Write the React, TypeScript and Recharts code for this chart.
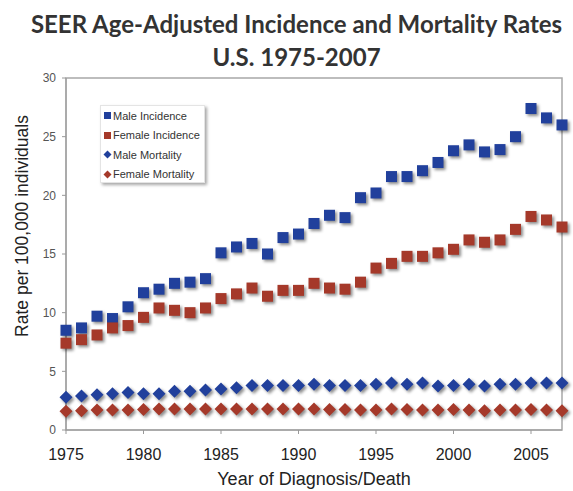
import { ScatterChart, Scatter, XAxis, YAxis, ReferenceArea, Legend } from 'recharts';

const years = [
  1975, 1976, 1977, 1978, 1979, 1980, 1981, 1982, 1983, 1984, 1985,
  1986, 1987, 1988, 1989, 1990, 1991, 1992, 1993, 1994, 1995, 1996,
  1997, 1998, 1999, 2000, 2001, 2002, 2003, 2004, 2005, 2006, 2007,
];

const maleIncidence = [
  8.5, 8.7, 9.7, 9.5, 10.5, 11.7, 12.0, 12.5, 12.6, 12.9, 15.1,
  15.6, 15.9, 15.0, 16.4, 16.7, 17.6, 18.3, 18.1, 19.8, 20.2, 21.6,
  21.6, 22.1, 22.8, 23.8, 24.3, 23.7, 23.9, 25.0, 27.4, 26.6, 26.0,
];
const femaleIncidence = [
  7.4, 7.7, 8.1, 8.7, 8.9, 9.6, 10.4, 10.2, 10.0, 10.4, 11.2,
  11.6, 12.1, 11.4, 11.9, 11.9, 12.5, 12.1, 12.0, 12.6, 13.8, 14.2,
  14.8, 14.8, 15.1, 15.4, 16.2, 16.0, 16.2, 17.1, 18.2, 17.9, 17.3,
];
const maleMortality = [
  2.8, 2.9, 3.0, 3.1, 3.2, 3.1, 3.1, 3.3, 3.3, 3.4, 3.5,
  3.6, 3.8, 3.8, 3.8, 3.8, 3.9, 3.8, 3.8, 3.8, 3.9, 4.0,
  3.9, 4.0, 3.75, 3.8, 3.9, 3.75, 3.9, 3.9, 4.0, 4.0, 4.0,
];
const femaleMortality = [
  1.6, 1.65, 1.7, 1.7, 1.7, 1.75, 1.8, 1.8, 1.8, 1.8, 1.8,
  1.8, 1.8, 1.8, 1.8, 1.8, 1.8, 1.75, 1.75, 1.7, 1.7, 1.8,
  1.75, 1.7, 1.7, 1.75, 1.7, 1.65, 1.7, 1.7, 1.75, 1.7, 1.65,
];

const yearTicks = [1975, 1980, 1985, 1990, 1995, 2000, 2005];
const rateTicks = [0, 5, 10, 15, 20, 25, 30];

const BLUE = '#21409c';
const RED = '#a5392a';
const SHADOW = 'drop-shadow(2px 2px 1.5px rgba(0,0,0,0.45))';

const toPoints = (values: number[]) => years.map((year, i) => ({ year, rate: values[i] }));

const Square = (props: any) => {
  const { cx, cy, fill } = props;
  return <rect x={cx - 5.5} y={cy - 5.5} width={11} height={11} fill={fill} style={{ filter: SHADOW }} />;
};

const Diamond = (props: any) => {
  const { cx, cy, fill } = props;
  const r = 6.5;
  return (
    <path
      d={`M${cx},${cy - r}L${cx + r},${cy}L${cx},${cy + r}L${cx - r},${cy}Z`}
      fill={fill}
      style={{ filter: SHADOW }}
    />
  );
};

const series = [
  { name: 'Male Incidence', values: maleIncidence, color: BLUE, shape: Square, square: true },
  { name: 'Female Incidence', values: femaleIncidence, color: RED, shape: Square, square: true },
  { name: 'Male Mortality', values: maleMortality, color: BLUE, shape: Diamond, square: false },
  { name: 'Female Mortality', values: femaleMortality, color: RED, shape: Diamond, square: false },
];

const LegendBox = () => (
  <div
    style={{
      width: 105,
      height: 78,
      boxSizing: 'border-box',
      border: '1px solid #e4e4e4',
      boxShadow: '2px 2px 3px rgba(0,0,0,0.35)',
      background: '#fff',
      padding: '0 0 0 2px',
      fontFamily: '"Liberation Sans", Arial, sans-serif',
      fontSize: 11,
      color: '#333',
      whiteSpace: 'nowrap',
    }}
  >
    {series.map((s) => (
      <div key={s.name} style={{ height: 19.5, display: 'flex', alignItems: 'center' }}>
        <svg width={9} height={9} style={{ marginRight: 1 }}>
          {s.square ? (
            <rect x={1} y={1} width={7} height={7} fill={s.color} />
          ) : (
            <path d="M4.5,0.5L8.5,4.5L4.5,8.5L0.5,4.5Z" fill={s.color} />
          )}
        </svg>
        <span>{s.name}</span>
      </div>
    ))}
  </div>
);

const YLabel = () => {
  const x = 22;
  const y = 226;
  return (
    <text
      x={x}
      y={y}
      transform={`rotate(-90, ${x}, ${y})`}
      textAnchor="middle"
      dominantBaseline="central"
      fontSize={17.5}
      fill="#222"
      fontFamily='"Liberation Sans", Arial, sans-serif'
    >
      Rate per 100,000 individuals
    </text>
  );
};

export default function App() {
  return (
    <div style={{ position: 'absolute', left: 0, top: 0, width: 573, height: 491, background: '#fff' }}>
      <div
        style={{
          position: 'absolute',
          left: 0,
          top: 7,
          width: 593,
          textAlign: 'center',
          fontFamily: 'Lato, "Open Sans", sans-serif',
          fontWeight: 700,
          fontSize: 24,
          lineHeight: '33px',
          color: '#333',
        }}
      >
        <div>SEER Age-Adjusted Incidence and Mortality Rates</div>
        <div>U.S. 1975-2007</div>
      </div>
      <ScatterChart width={573} height={491} margin={{ top: 78, right: 11, bottom: 0, left: 0 }}>
        <XAxis
          type="number"
          dataKey="year"
          domain={[1975, 2007]}
          ticks={yearTicks}
          height={61}
          tickSize={4}
          tickMargin={15}
          stroke="#999"
          tick={{ fontSize: 16, fill: '#222', fontFamily: '"Liberation Sans", Arial, sans-serif' }}
          label={{
            value: 'Year of Diagnosis/Death',
            position: 'insideBottom',
            offset: 6,
            fontSize: 18,
            fill: '#222',
            fontFamily: '"Liberation Sans", Arial, sans-serif',
          }}
        />
        <YAxis
          type="number"
          dataKey="rate"
          domain={[0, 30]}
          ticks={rateTicks}
          width={66}
          tickSize={4}
          tickMargin={6}
          stroke="#999"
          tick={{ fontSize: 12, fill: '#555', fontFamily: '"Liberation Sans", Arial, sans-serif' }}
          label={<YLabel />}
        />
        <ReferenceArea x1={1975} x2={2007} y1={0} y2={30} fill="none" stroke="#a8a8a8" strokeWidth={1.5} />
        <Legend
          layout="vertical"
          align="center"
          verticalAlign="middle"
          content={<LegendBox />}
          wrapperStyle={{ position: 'absolute', left: 100, top: 105, width: 105, height: 78 }}
        />
        {series.map((s) => (
          <Scatter
            key={s.name}
            name={s.name}
            data={toPoints(s.values)}
            fill={s.color}
            shape={s.shape}
            isAnimationActive={false}
          />
        ))}
      </ScatterChart>
    </div>
  );
}
